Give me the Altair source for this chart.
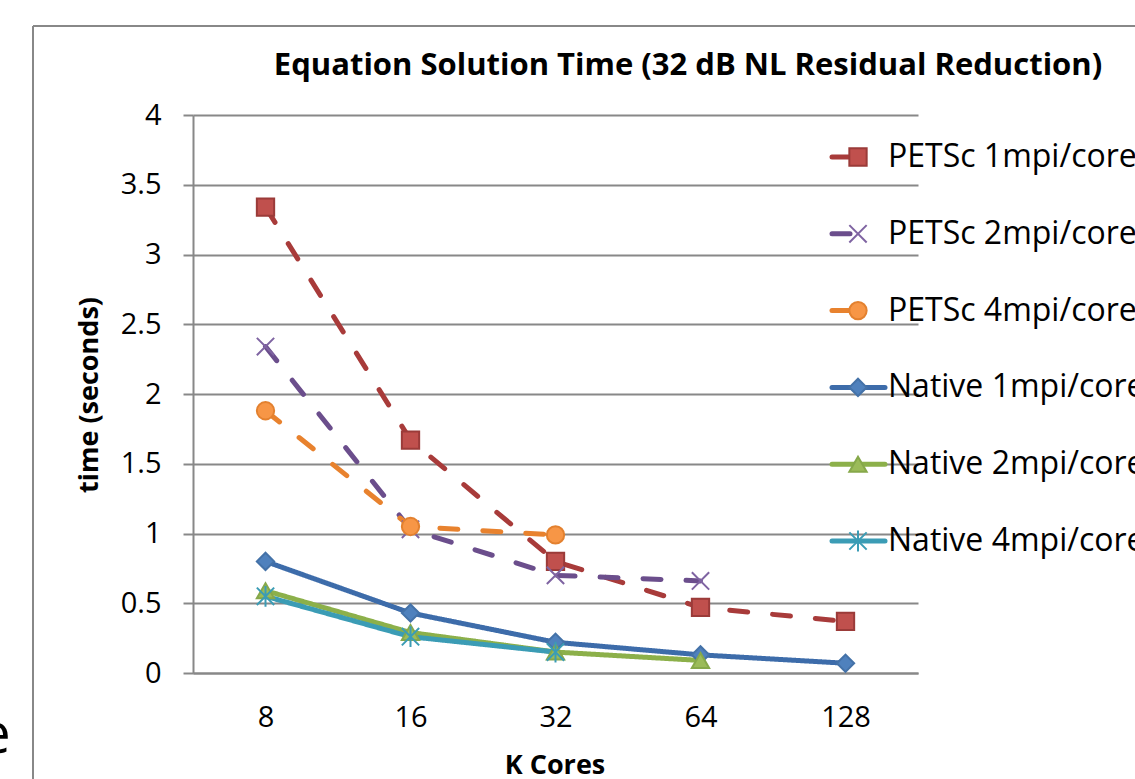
import altair as alt
import pandas as pd

# ---- data ----
k_cores = ["8", "16", "32", "64", "128"]
series_names = ["PETSc 1mpi/core", "PETSc 2mpi/core", "PETSc 4mpi/core",
                "Native 1mpi/core", "Native 2mpi/core", "Native 4mpi/core"]
petsc1 = [3.34, 1.67, 0.80, 0.47, 0.37]
petsc2 = [2.34, 1.03, 0.70, 0.66, None]
petsc4 = [1.88, 1.05, 0.99, None, None]
native1 = [0.80, 0.43, 0.22, 0.13, 0.07]
native2 = [0.59, 0.29, 0.15, 0.09, None]
native4 = [0.55, 0.26, 0.15, None, None]
y_ticks = [0, 0.5, 1, 1.5, 2, 2.5, 3, 3.5, 4]

title_text = "Equation Solution Time (32 dB NL Residual Reduction)"
y_title = "time (seconds)"
x_title = "K Cores"

# ---- styles ----
line_colors = ["#A83B3A", "#6B4E8C", "#E8822E", "#3D6CAA", "#8CB04A", "#3B9CB5"]
fill_colors = ["#C0504D", "#8064A2", "#F79646", "#4F81BD", "#9BBB59", "#4BACC6"]
stroke_colors = ["#9B3B39", "#7F64A2", "#E3812F", "#4472A8", "#86A84A", "#3B9CB5"]
shapes = ["square", "M-1,-1L1,1M-1,1L1,-1", "circle", "diamond", "triangle-up",
          "M-1,-1L1,1M-1,1L1,-1M0,-1.2L0,1.2"]
dashes = [[18, 25], [18, 25], [18, 25], [1, 0], [1, 0], [1, 0]]
FONT = "Open Sans"
GRID = "#888888"

rows = []
for name, vals in zip(series_names, [petsc1, petsc2, petsc4, native1, native2, native4]):
    for k, v in zip(k_cores, vals):
        if v is not None:
            rows.append({"series": name, "k": k, "time": v})
df = pd.DataFrame(rows)

leg_df = pd.DataFrame({"series": series_names, "idx": list(range(len(series_names))),
                       "kind": ["PETSc"] * 3 + ["Native"] * 3})

color_s = alt.Scale(domain=series_names, range=line_colors)
fill_s = alt.Scale(domain=series_names, range=fill_colors)
stroke_s = alt.Scale(domain=series_names, range=stroke_colors)
shape_s = alt.Scale(domain=series_names, range=shapes)
dash_s = alt.Scale(domain=series_names, range=dashes)

X = alt.X("k:N", sort=k_cores, title=None,
          axis=alt.Axis(labelAngle=0, ticks=False, tickSize=0, grid=False,
                        domainColor=GRID, domainWidth=2, labelFontSize=29,
                        labelFont=FONT, labelColor="black", labelPadding=30))
Y = alt.Y("time:Q", title=None, scale=alt.Scale(domain=[0, 4], nice=False),
          axis=alt.Axis(values=y_ticks, format="~g", grid=True, gridColor=GRID,
                        gridWidth=2, tickColor=GRID, tickWidth=2, tickSize=10,
                        domainColor=GRID, domainWidth=2, labelFontSize=29,
                        labelFont=FONT, labelColor="black", labelPadding=22))

lines = alt.Chart(df).mark_line(strokeWidth=5, strokeCap="round").encode(
    x=X, y=Y,
    color=alt.Color("series:N", scale=color_s, legend=None),
    strokeDash=alt.StrokeDash("series:N", scale=dash_s, legend=None),
)
points = alt.Chart(df).mark_point(size=300, filled=True, opacity=1, strokeWidth=2).encode(
    x=X, y=Y,
    shape=alt.Shape("series:N", scale=shape_s, legend=None),
    fill=alt.Fill("series:N", scale=fill_s, legend=None),
    stroke=alt.Stroke("series:N", scale=stroke_s, legend=None),
)
main = alt.layer(lines, points)

# ---- hand-made legend ----
LY = alt.Y("idx:Q", scale=alt.Scale(domain=[0, 5], range=[42, 426]), axis=None)
leg_base = alt.Chart(leg_df)
leg_rule_p = leg_base.transform_filter(alt.datum.kind == "PETSc").mark_rule(
    strokeWidth=5, strokeCap="round").encode(
    x=alt.value(639), x2=alt.value(657), y=LY,
    color=alt.Color("series:N", scale=color_s, legend=None))
leg_rule_n = leg_base.transform_filter(alt.datum.kind == "Native").mark_rule(
    strokeWidth=5, strokeCap="round").encode(
    x=alt.value(639), x2=alt.value(692), y=LY,
    color=alt.Color("series:N", scale=color_s, legend=None))
leg_pts = leg_base.mark_point(size=300, filled=True, opacity=1, strokeWidth=2).encode(
    x=alt.value(665), y=LY,
    shape=alt.Shape("series:N", scale=shape_s, legend=None),
    fill=alt.Fill("series:N", scale=fill_s, legend=None),
    stroke=alt.Stroke("series:N", scale=stroke_s, legend=None))
leg_txt = leg_base.mark_text(align="left", baseline="middle", fontSize=32, font=FONT,
                             color="black").encode(x=alt.value(695), y=LY, text="series:N")
legend = alt.layer(leg_rule_p, leg_rule_n, leg_pts, leg_txt)

# ---- decorations: titles and frame ----
one = alt.Data(values=[{"t": title_text, "yt": y_title, "xt": x_title, "e": "e"}])
title = alt.Chart(one).mark_text(fontSize=31, font=FONT, fontWeight="bold", align="center",
                                 baseline="alphabetic", color="black").encode(
    x=alt.value(495), y=alt.value(-40), text="t:N")
ytitle = alt.Chart(one).mark_text(fontSize=27, font=FONT, fontWeight="bold", align="center",
                                  baseline="middle", angle=270, color="black").encode(
    x=alt.value(-103), y=alt.value(280), text="yt:N")
xtitle = alt.Chart(one).mark_text(fontSize=27, font=FONT, fontWeight="bold", align="center",
                                  baseline="middle", color="black").encode(
    x=alt.value(362), y=alt.value(651), text="xt:N")
e_txt = alt.Chart(one).mark_text(fontSize=56, font=FONT, align="center",
                                 baseline="alphabetic", color="black").encode(
    x=alt.value(-198), y=alt.value(638), text="e:N")
frame_v = alt.Chart(one).mark_rule(color=GRID, strokeWidth=2).encode(
    x=alt.value(-160), y=alt.value(-89), y2=alt.value(700))
frame_h = alt.Chart(one).mark_rule(color=GRID, strokeWidth=2).encode(
    x=alt.value(-160), x2=alt.value(1000), y=alt.value(-89))
decor = alt.layer(frame_v, frame_h, title, ytitle, xtitle, e_txt)

chart = alt.layer(main, legend, decor).resolve_scale(y="independent").properties(
    width=725, height=558,
    autosize=alt.AutoSizeParams(type="none"),
    padding={"left": 193, "top": 115, "right": 217, "bottom": 106},
    background="white",
).configure_view(stroke=None)

chart.save("out.html", embed_options={"renderer": "svg", "actions": False})
